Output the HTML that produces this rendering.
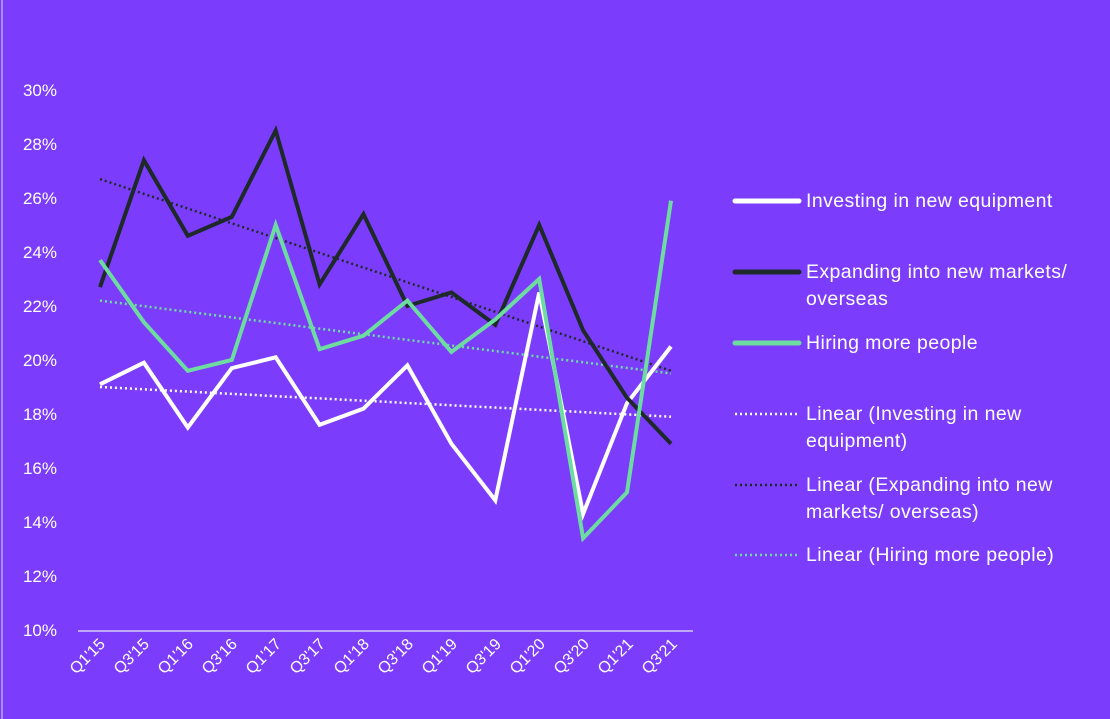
<!DOCTYPE html>
<html><head><style>
html,body{margin:0;padding:0;background:#7b3dfb;}
svg{display:block;font-family:"Liberation Sans",sans-serif;}
</style></head><body>
<svg width="1110" height="719" viewBox="0 0 1110 719">
<rect width="1110" height="719" fill="#7b3dfb"/>
<line x1="2" y1="0" x2="2" y2="719" stroke="#b9a4f5" stroke-width="1.5"/>
<g fill="#fff" font-size="17" text-anchor="end">
<text x="57" y="96">30%</text><text x="57" y="150">28%</text><text x="57" y="204">26%</text>
<text x="57" y="258">24%</text><text x="57" y="312">22%</text><text x="57" y="366">20%</text>
<text x="57" y="420">18%</text><text x="57" y="474">16%</text><text x="57" y="528">14%</text>
<text x="57" y="582">12%</text><text x="57" y="636">10%</text>
</g>
<line x1="78" y1="631" x2="693" y2="631" stroke="#d8ccf7" stroke-width="1.5"/>
<g fill="#fff" font-size="16" text-anchor="end">
<text transform="translate(106,645) rotate(-45)">Q1'15</text>
<text transform="translate(150,645) rotate(-45)">Q3'15</text>
<text transform="translate(194,645) rotate(-45)">Q1'16</text>
<text transform="translate(238,645) rotate(-45)">Q3'16</text>
<text transform="translate(282,645) rotate(-45)">Q1'17</text>
<text transform="translate(326,645) rotate(-45)">Q3'17</text>
<text transform="translate(370,645) rotate(-45)">Q1'18</text>
<text transform="translate(414,645) rotate(-45)">Q3'18</text>
<text transform="translate(458,645) rotate(-45)">Q1'19</text>
<text transform="translate(502,645) rotate(-45)">Q3'19</text>
<text transform="translate(546,645) rotate(-45)">Q1'20</text>
<text transform="translate(590,645) rotate(-45)">Q3'20</text>
<text transform="translate(634,645) rotate(-45)">Q1'21</text>
<text transform="translate(678,645) rotate(-45)">Q3'21</text>
</g>
<g fill="none" stroke-width="2.5" stroke-dasharray="2,3">
<line x1="100" y1="387" x2="671" y2="416.7" stroke="#fff"/>
<line x1="100" y1="179.1" x2="671" y2="370.8" stroke="#1e2a2a"/>
<line x1="100" y1="300.6" x2="671" y2="373.5" stroke="#6ddca0"/>
</g>
<g fill="none" stroke-width="4" stroke-linejoin="miter">
<polyline stroke="#fff" points="100,384.3 143.9,362.7 187.8,427.5 231.8,368.1 275.7,357.3 319.6,424.8 363.5,408.6 407.4,365.4 451.4,443.7 495.3,500.4 539.2,292.5 583.1,513.9 627,403.2 671,346.5"/>
<polyline stroke="#1e2a2a" points="100,287.1 143.9,160.2 187.8,235.8 231.8,216.9 275.7,130.5 319.6,284.4 363.5,214.2 407.4,306 451.4,292.5 495.3,324.9 539.2,225 583.1,330.3 627,397.8 671,443.7"/>
<polyline stroke="#6ddca0" points="100,260.1 143.9,322.2 187.8,370.8 231.8,360 275.7,225 319.6,349.2 363.5,335.7 407.4,300.6 451.4,351.9 495.3,319.5 539.2,279 583.1,538.2 627,492.3 671,200.7"/>
</g>
<g stroke-linecap="round">
<line x1="735" y1="201" x2="799" y2="201" stroke="#fff" stroke-width="5"/>
<line x1="735" y1="272" x2="799" y2="272" stroke="#1e2a2a" stroke-width="5"/>
<line x1="735" y1="343" x2="799" y2="343" stroke="#6ddca0" stroke-width="5"/>
</g>
<g stroke-width="2.5" stroke-dasharray="2,3">
<line x1="735" y1="414" x2="799" y2="414" stroke="#fff"/>
<line x1="735" y1="485" x2="799" y2="485" stroke="#1e2a2a"/>
<line x1="735" y1="555" x2="799" y2="555" stroke="#6ddca0"/>
</g>
<g fill="#fff" font-size="19.5" letter-spacing="0.4">
<text x="806" y="207">Investing in new equipment</text>
<text x="806" y="278">Expanding into new markets/</text>
<text x="806" y="305">overseas</text>
<text x="806" y="349">Hiring more people</text>
<text x="806" y="420">Linear (Investing in new</text>
<text x="806" y="447">equipment)</text>
<text x="806" y="491">Linear (Expanding into new</text>
<text x="806" y="518">markets/ overseas)</text>
<text x="806" y="561">Linear (Hiring more people)</text>
</g>
</svg>
</body></html>
